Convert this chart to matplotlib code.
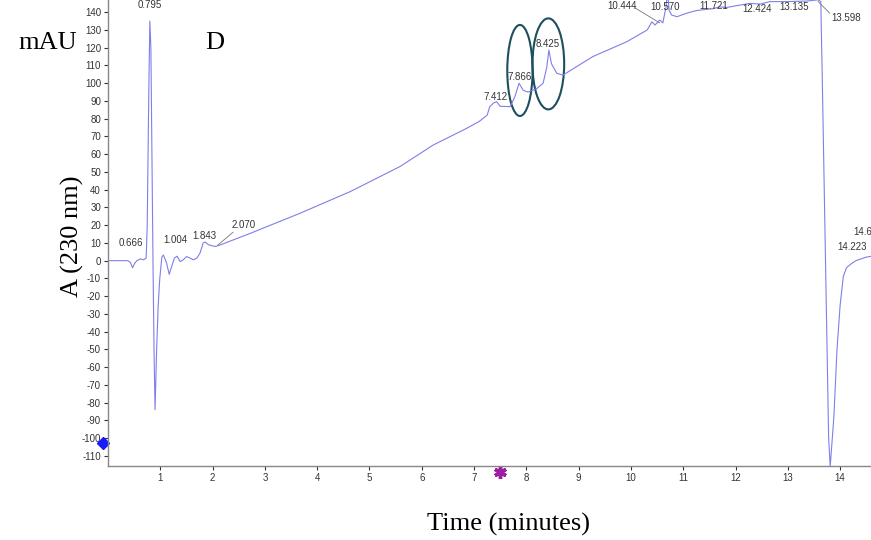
import matplotlib.pyplot as plt
from matplotlib.patches import Ellipse

plt.rcParams['axes.unicode_minus'] = False

# chromatogram trace
time_min = [0.00, 0.38, 0.43, 0.47, 0.51, 0.55, 0.62, 0.68, 0.73, 0.75, 0.78, 0.80,
            0.82, 0.84, 0.86, 0.88, 0.90, 0.93, 0.96, 0.99, 1.03, 1.06, 1.12, 1.17,
            1.22, 1.27, 1.32, 1.38, 1.44, 1.50, 1.57, 1.63, 1.70, 1.76, 1.82, 1.86,
            1.92, 1.98, 2.05, 2.14, 2.72, 3.67, 4.63, 5.58, 6.22, 6.86, 7.10, 7.25,
            7.30, 7.37, 7.43, 7.50, 7.69, 7.78, 7.86, 7.94, 8.03, 8.20, 8.32, 8.39,
            8.43, 8.48, 8.58, 8.70, 9.27, 9.92, 10.31, 10.40, 10.46, 10.55, 10.61,
            10.67, 10.70, 10.73, 10.78, 10.88, 11.07, 11.26, 11.32, 11.57, 11.70,
            11.83, 12.08, 12.28, 12.47, 12.66, 12.98, 13.36, 13.58, 13.63, 13.66,
            13.72, 13.78, 13.81, 13.85, 13.88, 13.94, 14.00, 14.06, 14.12, 14.20,
            14.30, 14.40, 14.50, 14.60]
absorb = [0, 0, -1, -4, -1.5, 0, 1, 0.5, 1.5, 20, 95, 135,
          120, 60, 0, -50, -84, -50, -25, -10, 2, 3.2, -1.3, -7.7,
          -3, 1.5, 2.5, -0.5, 0.5, 2.3, 1.5, 0.5, 1.5, 4.3, 10, 10.5,
          9, 8.5, 8, 8.8, 15.4, 26.7, 38.9, 53, 65.2, 74.6, 78.5, 82,
          86.8, 88.8, 89.6, 87, 86.8, 92.4, 100, 96, 95, 97, 100, 109,
          118.7, 111, 105.6, 104.6, 115, 123.4, 130, 134.6, 132.8, 135.6, 134,
          143, 152, 141, 138.4, 137.5, 139.5, 141, 141.2, 142, 143,
          142.7, 144, 145, 144.6, 146, 146, 146.3, 147, 146, 100,
          0, -100, -116, -100, -88, -50, -25, -9, -4, -2,
          0, 1, 2, 2.5]

# peak labels: text, x, y
peak_text = ['0.666', '0.795', '1.004', '1.843', '2.070', '7.412', '7.866', '8.425',
             '10.444', '10.570', '11.721', '12.424', '13.135', '13.598', '14.223', '14.6']
peak_x = [0.44, 0.80, 1.28, 1.85, 2.59, 7.42, 7.88, 8.41,
          9.83, 10.65, 11.59, 12.41, 13.12, 14.11, 14.23, 14.44]
peak_y = [10, 144, 11.7, 14, 20, 92, 103.5, 122,
          143.5, 143, 143.5, 141.8, 143, 136.7, 7.7, 16]

# leader lines from labels to peaks
leaders = [((2.10, 2.39), (8.8, 16)),
           ((10.08, 10.55), (142.4, 134)),
           ((13.58, 13.80), (146, 139.5))]

# circled peaks: x centre, y centre, width, height
circ_x = [7.877, 8.42]
circ_y = [107.2, 110.9]
circ_w = [0.484, 0.606]
circ_h = [51.3, 51.3]

yticks = list(range(-110, 150, 10))
xticks = list(range(1, 15))

fig = plt.figure(figsize=(8.71, 5.40), dpi=100)
ax = fig.add_axes([108 / 871, 74 / 540, 763 / 871, 466 / 540])

ax.plot(time_min, absorb, color='#7f7fea', lw=0.8)

for t, x, y in zip(peak_text, peak_x, peak_y):
    ax.text(x, y, t, fontsize=7, color='#333333', ha='center', va='center',
            family='Liberation Sans', clip_on=False)

for xs, ys in leaders:
    ax.plot(xs, ys, color='#777777', lw=0.6)

for cx, cy, w, h in zip(circ_x, circ_y, circ_w, circ_h):
    ax.add_patch(Ellipse((cx, cy), w, h, fill=False, ec='#1d4f5e', lw=1.5))

ax.set_xlim(0, 14.59)
ax.set_ylim(-115.7, 146.9)
ax.set_xticks(xticks)
ax.set_yticks(yticks)
ax.tick_params(labelsize=7, colors='#333333', length=3, width=0.8, pad=2)
for lab in ax.get_xticklabels() + ax.get_yticklabels():
    lab.set_family('Liberation Sans')
for s in ['top', 'right']:
    ax.spines[s].set_visible(False)
for s in ['left', 'bottom']:
    ax.spines[s].set_color('#888888')
    ax.spines[s].set_linewidth(1)

# markers on the axes
ax.plot([-0.1], [-102.7], marker='D', color='#1a1aff', ms=6, clip_on=False)
ax.plot([7.5], [-119], marker=(6, 2, 0), color='#9b1fa0', ms=9, mew=2.5, clip_on=False)

serif = 'Liberation Serif'
fig.text(48 / 871, 1 - 43 / 540, 'mAU', fontsize=19, family=serif, ha='center', va='center')
fig.text(215 / 871, 1 - 43 / 540, 'D', fontsize=19, family=serif, ha='center', va='center')
fig.text(72 / 871, 1 - 236 / 540, 'A (230 nm)', fontsize=19, family=serif,
         ha='center', va='center', rotation=90)
fig.text(508 / 871, 1 - 524 / 540, 'Time (minutes)', fontsize=19, family=serif,
         ha='center', va='center')

fig.savefig('out.png', dpi=100)
